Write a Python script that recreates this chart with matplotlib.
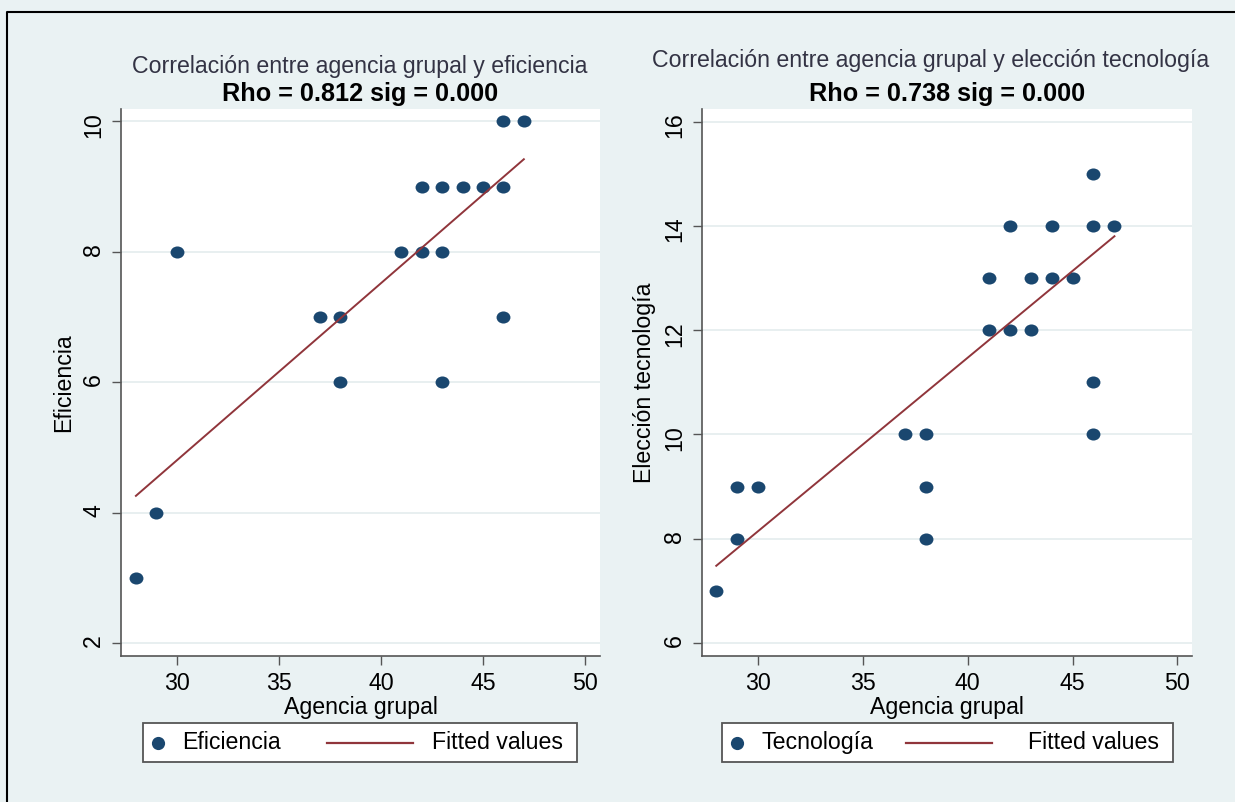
import matplotlib
matplotlib.use('Agg')
from matplotlib import pyplot as plt
from matplotlib.lines import Line2D
from matplotlib.patches import Rectangle
from matplotlib.path import Path
from matplotlib.transforms import Affine2D

plt.rcParams['font.family'] = ['Liberation Sans', 'DejaVu Sans']

# left panel: agencia grupal vs eficiencia
agencia_ef = [28, 29, 30, 37, 38, 38, 41, 42, 43, 42, 43, 44, 45, 46, 46, 47, 46, 43]
eficiencia = [3, 4, 8, 7, 7, 6, 8, 8, 8, 9, 9, 9, 9, 9, 10, 10, 7, 6]
fit_ef_x = [28, 47]
fit_ef_y = [4.26, 9.42]

# right panel: agencia grupal vs eleccion tecnologia
agencia_tec = [28, 29, 29, 30, 37, 38, 38, 38, 41, 41, 42, 42, 43, 43, 44, 44, 45, 46, 46, 46, 46, 47]
tecnologia = [7, 8, 9, 9, 10, 10, 9, 8, 12, 13, 12, 14, 12, 13, 13, 14, 13, 10, 11, 14, 15, 14]
fit_tec_x = [28, 47]
fit_tec_y = [7.48, 13.80]

x_ticks = [30, 35, 40, 45, 50]
ef_ticks = [2, 4, 6, 8, 10]
tec_ticks = [6, 8, 10, 12, 14, 16]

BG = '#eaf2f3'
NAVY = '#1a476f'
MAROON = '#90353b'
AXC = '#555555'
FS = 16.7

# slightly wide dots, like the stata export
dot = Path.unit_circle().transformed(Affine2D().scale(1.15, 1.0))

W, H = 1235, 802
fig = plt.figure(figsize=(W / 100, H / 100), dpi=100, facecolor=BG)


def box(x0, y0, x1, y1):
    return [x0 / W, 1 - y1 / H, (x1 - x0) / W, (y1 - y0) / H]


def panel(rect, xs, ys, fx, fy, xlim, ylim, yticks, ylabel):
    ax = fig.add_axes(rect)
    ax.set_facecolor('white')
    ax.yaxis.grid(True, color='#e4eced', lw=1.2)
    ax.set_axisbelow(True)
    ax.scatter(xs, ys, s=100, marker=dot, color=NAVY, linewidths=0, zorder=3)
    ax.plot(fx, fy, color=MAROON, lw=1.4, zorder=4)
    ax.set_xlim(*xlim)
    ax.set_ylim(*ylim)
    ax.set_xticks(x_ticks)
    ax.set_yticks(yticks)
    for s in ['top', 'right']:
        ax.spines[s].set_visible(False)
    for s in ['left', 'bottom']:
        ax.spines[s].set_color(AXC)
        ax.spines[s].set_linewidth(1.2)
    ax.tick_params(direction='out', length=6.5, width=1, color=AXC,
                   labelsize=FS, pad=5)
    ax.tick_params(axis='y', labelrotation=90)
    ax.set_xlabel('Agencia grupal', fontsize=FS, labelpad=1)
    ax.set_ylabel(ylabel, fontsize=FS, labelpad=5)
    return ax


panel(box(121, 109, 600, 656), agencia_ef, eficiencia, fit_ef_x, fit_ef_y,
      (27.27, 50.73), (1.805, 10.19), ef_ticks, 'Eficiencia')
panel(box(702, 109, 1192, 656), agencia_tec, tecnologia, fit_tec_x, fit_tec_y,
      (27.32, 50.7), (5.75, 16.24), tec_ticks, 'Elección tecnología')

# titles
fig.text(360 / W, 1 - 66 / H, 'Correlación entre agencia grupal y eficiencia',
         ha='center', va='center', fontsize=FS, color='#333344')
fig.text(360 / W, 1 - 94 / H, 'Rho = 0.812 sig = 0.000',
         ha='center', va='center', fontsize=18.2, fontweight='bold', color='black')
fig.text(931 / W, 1 - 60 / H, 'Correlación entre agencia grupal y elección tecnología',
         ha='center', va='center', fontsize=FS, color='#333344')
fig.text(947 / W, 1 - 94 / H, 'Rho = 0.738 sig = 0.000',
         ha='center', va='center', fontsize=18.2, fontweight='bold', color='black')


def legend(x0, x1, label):
    y0, y1 = 723, 762
    yc = 1 - (y0 + y1) / 2 / H
    fig.add_artist(Rectangle((x0 / W, 1 - y1 / H), (x1 - x0) / W, (y1 - y0) / H,
                             transform=fig.transFigure, facecolor='white',
                             edgecolor=AXC, lw=1.3))
    fig.add_artist(Line2D([(x0 + 15) / W], [yc], marker='o', ms=9.5, color=NAVY,
                          mew=0, transform=fig.transFigure))
    fig.text((x0 + 39) / W, yc, label, ha='left', va='center', fontsize=FS)
    fig.add_artist(Line2D([(x0 + 184) / W, (x0 + 270) / W], [yc, yc], color=MAROON,
                          lw=1.6, transform=fig.transFigure))
    fig.text((x1 - 14) / W, yc, 'Fitted values', ha='right', va='center', fontsize=FS)


legend(143, 577, 'Eficiencia')
legend(722, 1173, 'Tecnología')

# outer frame
fig.add_artist(Line2D([7 / W, 7 / W, 1], [0, 1 - 12 / H, 1 - 12 / H], color='black',
                      lw=1.5, transform=fig.transFigure))

fig.savefig('out.png', dpi=100, facecolor=BG)
